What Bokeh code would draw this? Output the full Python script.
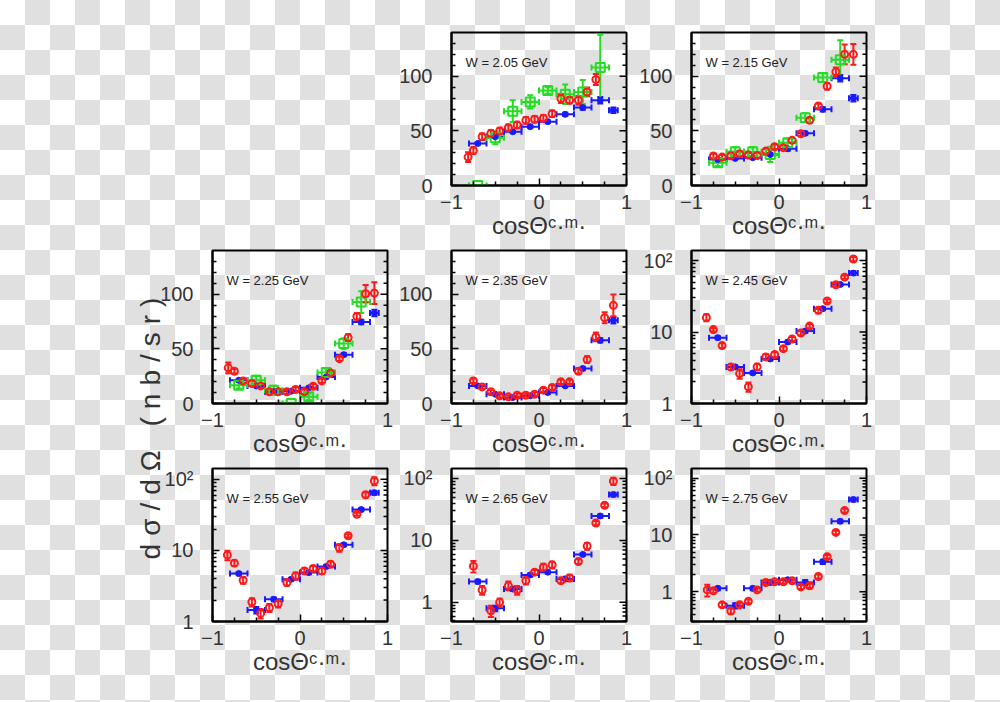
import numpy as np
from bokeh.plotting import figure
from bokeh.models import (ColumnDataSource, Whisker, TeeHead, Label,
                          FixedTicker, Range1d, Spacer)
from bokeh.layouts import row, column
from bokeh.embed import file_html
from bokeh.resources import INLINE
from bokeh.core.properties import value

# ---------------- data ----------------
red_x_std = [-0.75, -0.65, -0.55, -0.45, -0.35, -0.25, -0.15, -0.05, 0.05, 0.15,
             0.25, 0.35, 0.45, 0.55, 0.65, 0.75, 0.85]
blue_x = [-0.7, -0.5, -0.3, -0.1, 0.1, 0.3, 0.5, 0.7, 0.85]
blue_xe = [0.1, 0.1, 0.1, 0.1, 0.1, 0.1, 0.1, 0.1, 0.05]
green_x = [-0.7, -0.5, -0.3, -0.1, 0.1, 0.3, 0.5, 0.7]
green_xe = [0.1, 0.1, 0.1, 0.1, 0.1, 0.1, 0.1, 0.1]

# W = 2.05 GeV
red_x_205 = [-0.81] + red_x_std[:15]
red_y_205 = [26, 32, 44.6, 47.7, 49.8, 52.9, 55.4, 59.6, 60.6, 61.5, 65.7, 79.5, 78, 78, 85.6, 97]
red_e_205 = [4.5, 3, 3, 3, 3, 3, 3, 3, 3, 3, 3, 4, 3, 4, 4, 5]
blue_y_205 = [38.5, 44.6, 49.2, 53.8, 58.4, 65.1, 71.3, 78, 68.8]
blue_e_205 = [1, 1, 1, 1, 1, 1.5, 2, 3, 2.5]
green_y_205 = [0, 43.7, 68, 76.5, 87, 83.5, 85.6, 108]
green_e_205 = [0, 6, 10, 6, 3, 9, 11, 30]

# W = 2.15 GeV
red_x_215 = red_x_std
red_y_215 = [27, 26, 27.2, 29, 27.8, 27.5, 31.5, 35.5, 34.6, 41.3, 47.4, 59.6, 72.8, 90.8, 104, 120, 120]
red_e_215 = [2, 2, 2, 2, 2, 2, 2, 2, 2, 2, 2, 2, 2, 3, 4, 9, 9.5]
blue_y_215 = [23.9, 24.8, 25.4, 28.4, 33.6, 47.7, 69.7, 98.2, 79.8]
blue_e_215 = [1, 1, 1, 1, 1.5, 1.5, 2, 3, 3]
green_y_215 = [20.8, 30.9, 30.9, 28.4, 39.1, 62, 98.8, 115]
green_e_215 = [3, 4, 4, 7, 4, 4, 4, 18]

# W = 2.25 GeV
red_x_225 = [-0.82] + red_x_std
red_y_225 = [32.6, 29.5, 20.7, 18.3, 16.1, 10.7, 10.7, 10.7, 12.8, 10.7, 15.8, 20.7, 28, 41, 60.3, 79.7, 100.4, 101]
red_e_225 = [5, 2, 2, 2, 2, 2, 2, 2, 2, 2, 2, 2, 2, 2, 3, 3, 8, 10]
blue_y_225 = [21.3, 16.1, 10.7, 11.3, 14.3, 24.3, 44.7, 74.6, 82.8]
blue_e_225 = [1, 1, 1, 1, 1, 1, 1.5, 2, 3]
green_y_225 = [16.7, 21.3, 12.2, 0, 6.1, 28.3, 54.8, 92.8]
green_e_225 = [3, 4, 4, 0, 3, 4, 5, 10]

# W = 2.35 GeV
red_x_235 = red_x_std
red_y_235 = [20.7, 15.2, 10.7, 7, 6.1, 7.6, 7.6, 8.5, 12.2, 14.6, 19.8, 19.8, 29.5, 40.2, 60.9, 78.5, 89.8]
red_e_235 = [2, 1.5, 1.5, 1.5, 1.5, 1.5, 1.5, 1.5, 2, 2, 2, 2, 2, 3, 4, 5, 10]
blue_y_235 = [16.1, 8.5, 5.5, 7, 10, 16.1, 32, 57.8, 76.1]
blue_e_235 = [1, 1, 1, 1, 1, 1, 1.5, 2, 3]

# W = 2.45 GeV
red_x_245 = [-0.83] + red_x_std
red_y_245 = [15.9, 10.8, 6.45, 3.25, 2.62, 1.71, 3.25, 4.48, 4.83, 5.85, 7.99, 9.69, 12.1, 20.1, 27.1, 45.8, 58.5, 105]
red_e_245 = [1.8, 0.6, 0.5, 0.3, 0.4, 0.25, 0.35, 0.4, 0.4, 0.4, 0.5, 0.7, 0.8, 1.8, 1.5, 2.5, 3, 7]
blue_y_245 = [8.34, 3.25, 2.68, 4.2, 7.25, 10.3, 21.2, 46.2, 66.6]
blue_e_245 = [0.4, 0.15, 0.12, 0.2, 0.35, 0.5, 1, 2, 4]

# W = 2.55 GeV
red_x_255 = [-0.83] + red_x_std
red_y_255 = [8.59, 6.62, 3.8, 1.88, 1.3, 1.56, 1.78, 3.53, 4.38, 5.15, 5.56, 5.15, 6.41, 10.9, 16.1, 32.3, 60.7, 94.7]
red_e_255 = [1.3, 0.6, 0.4, 0.25, 0.2, 0.2, 0.2, 0.35, 0.5, 0.4, 0.5, 0.5, 0.6, 1.3, 0.8, 1.5, 5, 12]
blue_y_255 = [4.73, 1.45, 2.05, 3.93, 4.88, 5.94, 12.0, 37.6, 64.8]
blue_e_255 = [0.25, 0.15, 0.12, 0.2, 0.25, 0.3, 0.6, 2, 4]

# W = 2.65 GeV
red_x_265 = red_x_std
red_y_265 = [3.84, 1.58, 0.73, 1.0, 1.86, 1.58, 2.24, 3.07, 3.7, 4.03, 2.24, 2.48, 4.56, 8.09, 19.1, 36.9, 90.5]
red_e_265 = [0.8, 0.25, 0.15, 0.15, 0.3, 0.25, 0.3, 0.25, 0.5, 0.5, 0.2, 0.3, 0.4, 1.0, 1.5, 2.5, 12]
blue_y_265 = [2.16, 0.8, 1.64, 2.77, 3.07, 2.39, 5.93, 24.8, 55]
blue_e_265 = [0.15, 0.08, 0.1, 0.15, 0.15, 0.12, 0.3, 1.5, 4]

# W = 2.75 GeV
red_x_275 = [-0.82] + red_x_std[:16]
red_y_275 = [1.08, 1.04, 0.59, 0.46, 0.59, 0.68, 1.08, 1.46, 1.5, 1.5, 1.56, 1.22, 1.28, 1.86, 4.15, 11.1, 26.9]
red_e_275 = [0.25, 0.1, 0.05, 0.05, 0.05, 0.05, 0.08, 0.1, 0.1, 0.1, 0.1, 0.1, 0.1, 0.15, 0.3, 0.8, 2]
blue_y_275 = [1.15, 0.57, 1.15, 1.46, 1.63, 1.46, 3.38, 17.4, 42]
blue_e_275 = [0.08, 0.06, 0.08, 0.1, 0.1, 0.15, 0.3, 1.2, 3]

x_major = [-1, 0, 1]
x_minor = [-0.75, -0.5, -0.25, 0.25, 0.5, 0.75]
x_labels = {-1: "\u22121", 0: "0", 1: "1"}
lin_major = [0, 50, 100]
lin_minor = [10, 20, 30, 40, 60, 70, 80, 90, 110, 120, 130]
log_major = [1, 10, 100]
log_minor = [0.2, 0.3, 0.4, 0.5, 0.6, 0.7, 0.8, 0.9, 2, 3, 4, 5, 6, 7, 8, 9,
             20, 30, 40, 50, 60, 70, 80, 90]
log_labels = {1: "1", 10: "10", 100: "10\u00b2"}
x_title = "cos\u0398\u1d9c\u00b7\u1d50\u00b7"
y_title = "d\u03c3/d\u03a9 (nb/sr)"

RED = "#ff1a1a"
BLUE = "#1a1aff"
GREEN = "#22dd22"
TXT = "#333333"
FONT = "Liberation Sans, DejaVu Sans"
FRAME_W, FRAME_H = 175, 153
MAJ_LEN, MIN_LEN = 7, 4
BOTTOM = 62


def whisk(p, src, base, lo, hi, dim, color):
    w = Whisker(base=base, lower=lo, upper=hi, dimension=dim, source=src,
                line_color=color, line_width=2,
                upper_head=TeeHead(size=6, line_color=color, line_width=2),
                lower_head=TeeHead(size=6, line_color=color, line_width=2))
    p.add_layout(w)


def make_panel(wtext, ylog, yr, rx, ry, re, by, be, gy=None, ge=None,
               left=56, right=9, top=3, bottom=BOTTOM):
    p = figure(width=left + FRAME_W + right, height=top + FRAME_H + bottom,
               x_range=Range1d(-1, 1), y_range=Range1d(*yr),
               y_axis_type="log" if ylog else "linear",
               output_backend="svg", toolbar_location=None,
               min_border_left=left, min_border_right=right,
               min_border_top=top, min_border_bottom=bottom,
               background_fill_color=None, border_fill_color=None,
               outline_line_color="black", outline_line_width=2)
    p.grid.visible = False

    xa = p.xaxis[0]
    xa.ticker = FixedTicker(ticks=x_major, minor_ticks=x_minor)
    xa.major_label_overrides = x_labels
    xa.axis_label = x_title
    xa.axis_label_text_font = FONT
    xa.axis_label_text_font_size = "24px"
    xa.axis_label_text_font_style = "normal"
    xa.axis_label_text_color = TXT
    xa.axis_label_standoff = 0

    ya = p.yaxis[0]
    if ylog:
        majors, minors = log_major, log_minor
        ya.major_label_overrides = log_labels
    else:
        majors, minors = lin_major, lin_minor
    ya.ticker = FixedTicker(ticks=majors, minor_ticks=minors)

    for ax in (xa, ya):
        ax.axis_line_color = "black"
        ax.axis_line_width = 2
        ax.major_tick_out = 0
        ax.minor_tick_out = 0
        ax.major_tick_in = MAJ_LEN
        ax.minor_tick_in = MIN_LEN
        ax.major_tick_line_width = 1.5
        ax.minor_tick_line_width = 1.5
        ax.major_tick_line_color = "black"
        ax.minor_tick_line_color = "black"
        ax.major_label_text_font = FONT
        ax.major_label_text_color = TXT
        ax.major_label_text_font_size = "20px"
    xa.major_label_standoff = 9
    ya.major_label_standoff = 19

    # mirrored ticks on the right frame edge
    px_per_x = FRAME_W / 2.0
    tick_y = [t for t in majors + minors if yr[0] < t < yr[1]]
    tick_len = [MAJ_LEN if t in majors else MIN_LEN for t in tick_y]
    p.segment(x0=[1.0] * len(tick_y), y0=tick_y,
              x1=[1.0 - L / px_per_x for L in tick_len], y1=tick_y,
              line_color="black", line_width=1.5)

    # blue (filled circles, horizontal bins)
    bsrc = ColumnDataSource(dict(
        x=blue_x, y=by,
        ylo=[v - e for v, e in zip(by, be)], yhi=[v + e for v, e in zip(by, be)],
        xlo=[v - e for v, e in zip(blue_x, blue_xe)], xhi=[v + e for v, e in zip(blue_x, blue_xe)]))
    whisk(p, bsrc, "y", "xlo", "xhi", "width", BLUE)
    whisk(p, bsrc, "x", "ylo", "yhi", "height", BLUE)
    p.scatter("x", "y", source=bsrc, marker="circle", size=6, fill_color=BLUE,
              line_color=BLUE)

    # green (open squares)
    if gy is not None:
        gsrc = ColumnDataSource(dict(
            x=green_x, y=gy,
            ylo=[v - e for v, e in zip(gy, ge)], yhi=[v + e for v, e in zip(gy, ge)],
            xlo=[v - e for v, e in zip(green_x, green_xe)], xhi=[v + e for v, e in zip(green_x, green_xe)]))
        whisk(p, gsrc, "y", "xlo", "xhi", "width", GREEN)
        whisk(p, gsrc, "x", "ylo", "yhi", "height", GREEN)
        p.scatter("x", "y", source=gsrc, marker="square", size=9, fill_color=None,
                  line_color=GREEN, line_width=2)

    # red (open circles)
    rsrc = ColumnDataSource(dict(
        x=rx, y=ry,
        ylo=[v - e for v, e in zip(ry, re)], yhi=[v + e for v, e in zip(ry, re)]))
    whisk(p, rsrc, "x", "ylo", "yhi", "height", RED)
    p.scatter("x", "y", source=rsrc, marker="circle", size=7, fill_color=None,
              line_color=RED, line_width=2)

    p.add_layout(Label(x=14, y=123, x_units="screen", y_units="screen", text=wtext,
                       text_font=FONT, text_font_size="13px", text_color="#222222",
                       text_baseline="middle"))
    return p


# column borders (left, right), px
COLS = [(62, 8), (56, 9), (56, 12)]
TOP1 = 32

f205 = make_panel("W = 2.05 GeV", False, (0, 140), red_x_205, red_y_205, red_e_205,
                  blue_y_205, blue_e_205, green_y_205, green_e_205,
                  left=COLS[1][0], right=COLS[1][1], top=TOP1)
f215 = make_panel("W = 2.15 GeV", False, (0, 140), red_x_215, red_y_215, red_e_215,
                  blue_y_215, blue_e_215, green_y_215, green_e_215,
                  left=COLS[2][0], right=COLS[2][1], top=TOP1)
f225 = make_panel("W = 2.25 GeV", False, (0, 140), red_x_225, red_y_225, red_e_225,
                  blue_y_225, blue_e_225, green_y_225, green_e_225,
                  left=COLS[0][0], right=COLS[0][1])
f235 = make_panel("W = 2.35 GeV", False, (0, 140), red_x_235, red_y_235, red_e_235,
                  blue_y_235, blue_e_235, left=COLS[1][0], right=COLS[1][1])
f245 = make_panel("W = 2.45 GeV", True, (1, 138), red_x_245, red_y_245, red_e_245,
                  blue_y_245, blue_e_245, left=COLS[2][0], right=COLS[2][1])
f255 = make_panel("W = 2.55 GeV", True, (1, 142), red_x_255, red_y_255, red_e_255,
                  blue_y_255, blue_e_255, left=COLS[0][0], right=COLS[0][1])
f265 = make_panel("W = 2.65 GeV", True, (0.49, 145), red_x_265, red_y_265, red_e_265,
                  blue_y_265, blue_e_265, left=COLS[1][0], right=COLS[1][1])
f275 = make_panel("W = 2.75 GeV", True, (0.30, 148), red_x_275, red_y_275, red_e_275,
                  blue_y_275, blue_e_275, left=COLS[2][0], right=COLS[2][1])

# y-axis title strip (overlapped by the transparent panel grid)
LAB_W, LAB_H = 185, 680
lab = figure(width=LAB_W, height=LAB_H, x_range=Range1d(0, LAB_W), y_range=Range1d(0, LAB_H),
             min_border=0, x_axis_location=None, y_axis_location=None,
             toolbar_location=None, output_backend="svg", outline_line_color=None,
             background_fill_color=None, border_fill_color=None,
             styles={"letter-spacing": "8px"})
lab.grid.visible = False
lab.text(x=[150], y=[LAB_H - 476], text=[y_title], angle=np.pi / 2,
         text_align="center", text_baseline="alphabetic",
         text_font=value(FONT), text_font_size="28px", text_color=TXT)

grid = column(
    row(Spacer(width=COLS[0][0] + FRAME_W + COLS[0][1], height=TOP1 + FRAME_H + BOTTOM), f205, f215),
    row(f225, f235, f245),
    row(f255, f265, f275),
    margin=(0, 0, 0, 150 - LAB_W),
)
p = row(lab, grid)

html = file_html(p, INLINE, "chart")
css = ("<style>html{background-color:#ffffff;"
       "background-image:repeating-conic-gradient(#e0e0e0 0% 25%, #ffffff 0% 50%);"
       "background-size:50px 50px;background-position:0 0;}</style>")
html = html.replace("</head>", css + "</head>", 1)
open("out.html", "w").write(html)
